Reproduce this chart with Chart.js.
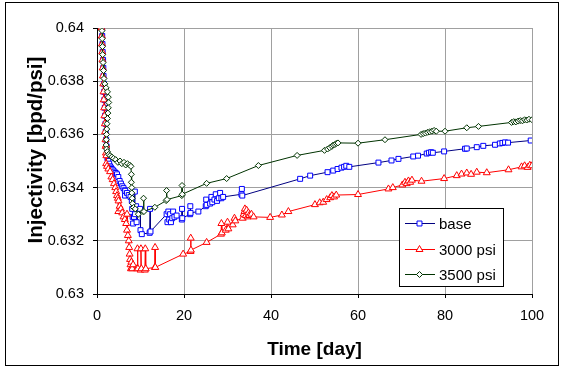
<!DOCTYPE html>
<html>
<head>
<meta charset="utf-8">
<script src="https://cdn.jsdelivr.net/npm/chart.js@4/dist/chart.umd.min.js"></script>
<style>
html,body{margin:0;padding:0;background:#fff;}
#wrap{width:564px;height:370px;}
canvas{display:block;background:#fff;}
</style>
</head>
<body>
<div id="wrap"><canvas id="c" width="564" height="370"></canvas></div>
<script>
// ---- data ----
const seriesNames = ['base', '3000 psi', '3500 psi'];
const xTickValues = [0, 20, 40, 60, 80, 100];
const yTickLabels = ['0.63', '0.632', '0.634', '0.636', '0.638', '0.64'];

const baseDays = [1.15,1.2,1.25,1.3,1.4,1.45,1.5,1.6,1.65,1.7,1.8,1.85,1.95,2.0,2.1,2.2,2.3,2.4,2.6,2.8,3.0,3.2,3.4,3.7,4.0,4.3,4.6,4.9,5.2,5.5,5.8,6.1,6.4,6.45,6.5,6.9,7.3,7.7,8.0,8.1,8.2,8.3,8.5,8.7,8.75,9.0,9.1,9.9,10.0,10.3,12.1,12.2,12.3,16.0,16.2,16.4,16.6,16.8,17.0,17.3,17.5,17.8,18.3,19.5,19.55,19.6,21.4,21.45,21.5,23.3,25.0,25.1,25.2,26.0,26.3,26.5,27.0,27.3,27.6,28.0,28.3,28.6,29.0,33.2,33.3,33.4,46.7,49.0,53.0,54.3,55.3,56.2,56.8,57.3,58.0,64.7,67.7,69.3,72.7,73.8,75.8,76.3,76.8,77.2,79.8,84.6,85.0,87.3,88.8,91.5,92.6,93.2,93.8,94.5,99.7];
const baseVals = [0.64,0.6397,0.6394,0.6391,0.6388,0.6385,0.6382,0.6379,0.6376,0.6373,0.637,0.6367,0.6364,0.6361,0.6358,0.63555,0.6353,0.6351,0.635,0.6349,0.6348,0.63475,0.6347,0.63465,0.6346,0.63455,0.6345,0.6344,0.63425,0.63415,0.63405,0.63398,0.6339,0.6337,0.63388,0.6338,0.63372,0.63365,0.6335,0.6332,0.6329,0.63265,0.6329,0.63385,0.633,0.6333,0.6327,0.6332,0.6324,0.63225,0.6323,0.6332,0.63235,0.633,0.6327,0.6331,0.6328,0.633,0.6327,0.63285,0.6331,0.6329,0.63295,0.6328,0.6332,0.63285,0.633,0.6333,0.63305,0.6331,0.6333,0.63355,0.63335,0.6334,0.63365,0.63345,0.63355,0.63375,0.6335,0.6336,0.6338,0.6336,0.63365,0.63375,0.63395,0.6337,0.63433,0.63445,0.63458,0.63464,0.6347,0.63475,0.63478,0.63482,0.63478,0.63494,0.63502,0.63508,0.63517,0.6352,0.63528,0.63531,0.63533,0.63531,0.63536,0.63546,0.63547,0.63552,0.63557,0.63561,0.63566,0.63568,0.6357,0.63569,0.63577];

const p3000Days = [1.05,1.1,1.15,1.2,1.25,1.3,1.35,1.45,1.5,1.55,1.65,1.7,1.8,1.85,1.95,2.0,2.05,2.1,2.1,2.15,2.3,2.6,3.0,3.3,3.6,3.9,4.2,4.4,4.6,4.8,4.9,4.95,5.2,5.5,5.8,6.1,6.4,6.7,6.9,6.9,7.1,7.3,7.4,7.5,7.6,7.7,7.8,7.9,8.0,8.1,8.3,9.2,9.3,9.4,10.0,10.1,10.2,11.0,11.1,11.2,13.3,13.35,13.4,19.8,21.5,21.55,21.6,25.2,28.5,28.6,28.7,29.6,30.0,30.2,31.2,31.6,31.8,33.5,33.7,33.9,34.0,34.2,34.4,34.6,34.8,35.0,35.5,36.0,39.8,42.5,44.0,50.1,51.2,52.0,52.8,53.6,54.0,54.5,55.0,60.0,67.0,68.0,70.2,70.8,71.2,71.6,72.0,72.4,74.6,79.8,82.7,83.8,85.0,86.0,87.3,89.6,94.6,97.6,98.3,99.0,99.5,100.0];
const p3000Vals = [0.64,0.6397,0.6394,0.6391,0.6388,0.6385,0.6382,0.6379,0.6376,0.6373,0.637,0.6367,0.6364,0.6361,0.6358,0.63555,0.6353,0.6349,0.6356,0.6352,0.6348,0.6347,0.6346,0.6344,0.6343,0.63415,0.634,0.63385,0.6337,0.6336,0.6331,0.6335,0.6333,0.6332,0.63305,0.6329,0.6328,0.63265,0.633,0.6324,0.6322,0.632,0.63175,0.6315,0.6313,0.6311,0.63095,0.6312,0.631,0.63095,0.6311,0.63095,0.6317,0.63095,0.6309,0.6317,0.63095,0.6309,0.6317,0.63095,0.631,0.63175,0.631,0.6315,0.6316,0.6321,0.63165,0.63194,0.63225,0.63265,0.6323,0.6324,0.6327,0.63245,0.6326,0.63285,0.63275,0.63285,0.633,0.6331,0.6332,0.63295,0.63315,0.6329,0.63305,0.63295,0.633,0.6329,0.63288,0.63297,0.6331,0.63336,0.63343,0.63345,0.63355,0.63362,0.6337,0.63365,0.63372,0.63374,0.63395,0.634,0.6341,0.6342,0.63415,0.63425,0.6342,0.63428,0.63424,0.63434,0.63445,0.63451,0.63455,0.6345,0.63458,0.63456,0.63467,0.63478,0.63482,0.63476,0.63484,0.63482];

const p3500Days = [1.15,1.2,1.25,1.3,1.4,1.5,1.6,1.8,2.1,2.4,2.6,2.7,2.6,2.5,2.4,2.3,2.25,2.2,2.15,2.1,2.2,2.4,2.7,3.0,3.4,3.8,4.3,4.8,5.3,5.7,6.2,6.6,7.0,7.5,7.8,7.9,7.9,8.0,8.0,8.1,8.2,8.4,8.8,9.5,10.6,10.7,10.8,13.3,15.9,16.0,16.1,19.5,19.55,19.6,25.2,29.8,37.1,46.0,52.3,53.0,53.5,54.0,54.3,54.7,55.0,55.4,60.0,66.2,74.5,75.0,75.5,76.0,76.5,77.0,77.5,78.0,80.0,85.0,87.7,95.3,95.8,96.3,96.8,97.3,97.8,98.3,98.8,99.3,100.0];
const p3500Vals = [0.6399,0.6396,0.6393,0.639,0.6387,0.6384,0.6381,0.6379,0.63775,0.6376,0.6374,0.6372,0.637,0.6368,0.6366,0.6364,0.6362,0.636,0.6358,0.6356,0.63545,0.63535,0.63525,0.6352,0.63515,0.6351,0.63505,0.63495,0.635,0.6349,0.63495,0.63485,0.6349,0.63485,0.6348,0.6345,0.6342,0.634,0.6338,0.6336,0.6334,0.63325,0.6332,0.633,0.6331,0.6336,0.6331,0.63326,0.63351,0.63389,0.63355,0.6337,0.63408,0.63375,0.63416,0.63434,0.63483,0.63521,0.6354,0.63545,0.6355,0.63555,0.6356,0.63562,0.63566,0.63568,0.63567,0.6358,0.636,0.63603,0.63605,0.63608,0.6361,0.63612,0.63615,0.63612,0.63612,0.63625,0.6363,0.63645,0.63648,0.63647,0.6365,0.63652,0.63651,0.63655,0.63654,0.63657,0.63655];

function pts(days, vals) { return days.map((d, i) => ({x: d, y: vals[i]})); }

const FONT = '"Liberation Sans", Arial, Helvetica, sans-serif';

const datasets = [
  {label: seriesNames[0], data: pts(baseDays, baseVals), borderColor: '#000080', backgroundColor: '#ffffff',
   pointBorderColor: '#0000ff', pointBackgroundColor: '#ffffff', pointStyle: 'rect', pointRadius: 3.5, pointBorderWidth: 1, order: 3},
  {label: seriesNames[1], data: pts(p3000Days, p3000Vals), borderColor: '#ff0000', backgroundColor: '#ffffff',
   pointBorderColor: '#ff0000', pointBackgroundColor: '#ffffff', pointStyle: 'triangle', pointRadius: 4, pointBorderWidth: 1, order: 2},
  {label: seriesNames[2], data: pts(p3500Days, p3500Vals), borderColor: '#003300', backgroundColor: '#ffffff',
   pointBorderColor: '#003300', pointBackgroundColor: '#ffffff', pointStyle: 'rectRot', pointRadius: 3, pointBorderWidth: 1, order: 1}
];
datasets.forEach(d => { d.showLine = true; d.borderWidth = 1; d.tension = 0; d.fill = false; });

function marker(ctx, style, x, y, r) {
  ctx.beginPath();
  if (style === 'rect') {
    const s = r * Math.SQRT1_2;
    ctx.rect(x - s, y - s, 2 * s, 2 * s);
  } else if (style === 'triangle') {
    ctx.moveTo(x, y - r);
    ctx.lineTo(x + r * 0.866, y + r * 0.5);
    ctx.lineTo(x - r * 0.866, y + r * 0.5);
    ctx.closePath();
  } else {
    ctx.moveTo(x, y - r); ctx.lineTo(x + r, y); ctx.lineTo(x, y + r); ctx.lineTo(x - r, y); ctx.closePath();
  }
  ctx.fill(); ctx.stroke();
}

const framePlugin = {
  id: 'frameAndLegend',
  beforeDraw(chart) {
    const y = chart.scales.y;
    if (!y._patched) {
      const orig = y.drawTitle.bind(y);
      y.drawTitle = function () { const c = this.ctx; c.save(); c.translate(0, -11); orig(); c.restore(); };
      y._patched = true;
    }
  },
  afterDraw(chart) {
    const ctx = chart.ctx;
    ctx.save();
    // outer frame
    ctx.strokeStyle = '#000'; ctx.lineWidth = 1;
    ctx.strokeRect(5.5, 2.5, 553, 363);
    // legend box
    const x0 = 399, y0 = 208, w = 104, h = 78;
    ctx.fillStyle = '#fff'; ctx.fillRect(x0, y0, w, h);
    ctx.strokeRect(x0 + 0.5, y0 + 0.5, w, h);
    ctx.font = '15px ' + FONT;
    ctx.textBaseline = 'middle'; ctx.textAlign = 'left';
    chart.data.datasets.forEach((ds, i) => {
      const cy = Math.round(y0 + 15 + i * 25.7) + 0.5;
      ctx.strokeStyle = ds.borderColor; ctx.lineWidth = 1;
      ctx.beginPath(); ctx.moveTo(x0 + 6, cy); ctx.lineTo(x0 + 36, cy); ctx.stroke();
      ctx.strokeStyle = ds.pointBorderColor; ctx.fillStyle = ds.pointBackgroundColor;
      marker(ctx, ds.pointStyle, x0 + 20.5, cy, ds.pointRadius);
      ctx.fillStyle = '#000';
      ctx.fillText(ds.label, x0 + 40, cy + 1);
    });
    ctx.restore();
  }
};

new Chart(document.getElementById('c'), {
  type: 'scatter',
  data: {datasets},
  options: {
    responsive: false,
    animation: false,
    devicePixelRatio: 1,
    layout: {padding: {left: 0, right: 32, top: 28, bottom: 0}},
    plugins: {legend: {display: false}, tooltip: {enabled: false}},
    scales: {
      x: {
        type: 'linear', min: 0, max: 100,
        afterBuildTicks: s => { s.ticks = xTickValues.map(v => ({value: v})); },
        afterFit: s => { s.height = 76; },
        ticks: {color: '#000', font: {family: FONT, size: 14.5}, padding: 9, maxRotation: 0},
        grid: {color: '#a0a0a0', lineWidth: 1, tickLength: 4, tickColor: '#000'},
        border: {color: '#000', width: 1},
        title: {display: true, text: 'Time [day]', color: '#000', font: {family: FONT, size: 19, weight: 'bold'}, padding: {top: 0, bottom: 9}}
      },
      y: {
        type: 'linear', min: 0.63, max: 0.64,
        afterBuildTicks: s => { s.ticks = yTickLabels.map(t => ({value: parseFloat(t)})); },
        afterFit: s => { s.width = 97; },
        ticks: {color: '#000', font: {family: FONT, size: 14.5}, padding: 9, callback: (v, i) => yTickLabels[i]},
        grid: {color: '#a0a0a0', lineWidth: 1, tickLength: 4, tickColor: '#000'},
        border: {color: '#000', width: 1},
        title: {display: true, text: 'Injectivity [bpd/psi]', color: '#000', font: {family: FONT, size: 20.5, weight: 'bold'}, padding: {top: 24, bottom: 0}}
      }
    }
  },
  plugins: [framePlugin]
});
</script>
</body>
</html>
